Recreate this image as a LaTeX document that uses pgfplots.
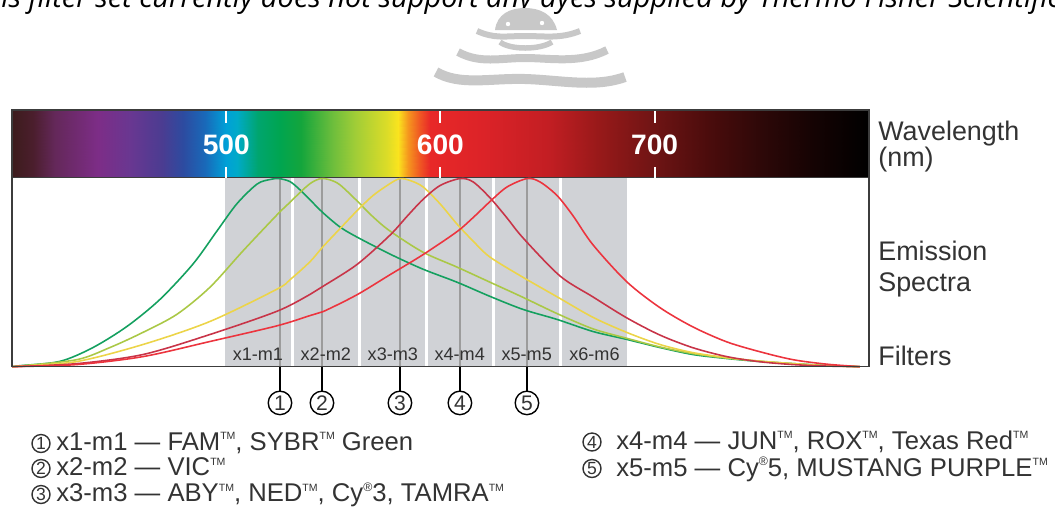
\documentclass[border=0pt]{standalone}
\usepackage{fontspec}
\setmainfont{Liberation Sans}
\newfontfamily\titlefont{Open Sans}
\usepackage{pgfplots}
\usepackage{pgfplotstable}
\pgfplotsset{compat=1.18}

\definecolor{framec}{HTML}{3C3C3C}
\definecolor{bandc}{HTML}{D0D2D6}
\definecolor{fline}{HTML}{9C9C9C}
\definecolor{cA}{RGB}{20,160,95}
\definecolor{cB}{RGB}{170,200,70}
\definecolor{cC}{RGB}{236,212,72}
\definecolor{cD}{RGB}{200,52,72}
\definecolor{cE}{RGB}{236,52,62}
\definecolor{txt}{HTML}{333333}
\definecolor{wm}{HTML}{C8C8C8}

\newcommand\tm{\raisebox{0.75ex}{\fontsize{6}{6}\selectfont TM}}
\newcommand\reg{\raisebox{0.75ex}{\fontsize{7}{7}\selectfont ®}}
\newcommand\lgfont{\fontsize{14.6}{16}\selectfont}

% emission spectra (wavelength nm, relative intensity)
\pgfplotstableread{
x y
400 0
403.7 0.005
422.4 0.028
437.8 0.101
453.7 0.213
469.1 0.356
484.5 0.543
495.7 0.718
505.0 0.862
514.4 0.966
520.4 0.990
524.6 0.995
529.8 0.979
534.4 0.936
539.1 0.883
545.2 0.814
553.1 0.739
561.0 0.686
576.4 0.596
591.8 0.516
607.7 0.447
623.1 0.372
638.5 0.303
654.4 0.250
671.2 0.186
687.0 0.144
702.5 0.101
717.9 0.064
733.7 0.043
749.1 0.027
764.5 0.016
780.4 0.006
795.8 0
}\fam
\pgfplotstableread{
x y
400 0
403.7 0.003
430.3 0.037
445.7 0.101
461.1 0.181
477.0 0.277
492.4 0.420
507.8 0.612
523.7 0.803
529.8 0.870
535.8 0.936
540.0 0.975
544.2 0.995
548.5 0.988
553.1 0.962
561.0 0.878
568.5 0.793
576.4 0.718
591.8 0.606
607.7 0.527
623.1 0.447
638.5 0.367
654.4 0.281
671.2 0.200
687.0 0.150
702.5 0.104
717.9 0.069
733.7 0.045
749.1 0.029
764.5 0.016
780.4 0.005
795.8 0
}\vic
\pgfplotstableread{
x y
400 0
403.7 0.003
430.3 0.027
461.1 0.117
492.4 0.239
523.7 0.410
529.8 0.460
539.1 0.555
545.2 0.635
553.1 0.730
561.0 0.824
568.5 0.905
576.4 0.968
581.1 0.995
585.8 0.985
591.8 0.952
599.8 0.862
607.7 0.755
615.2 0.665
623.1 0.580
638.5 0.473
654.4 0.370
671.2 0.261
687.0 0.181
702.5 0.117
717.9 0.074
733.7 0.048
749.1 0.029
764.5 0.016
780.4 0.005
795.8 0
}\aby
\pgfplotstableread{
x y
400 0
430.3 0.016
461.1 0.064
492.4 0.170
523.7 0.293
539.1 0.382
545.2 0.425
561.0 0.540
576.4 0.695
584.4 0.795
591.8 0.884
599.8 0.958
609.1 0.995
615.2 0.978
623.1 0.894
631.0 0.788
638.5 0.682
655.8 0.480
671.2 0.369
687.0 0.258
702.5 0.167
717.9 0.100
733.7 0.053
749.1 0.026
764.5 0.011
780.4 0.003
795.8 0
}\rox
\pgfplotstableread{
x y
400 0
430.3 0.011
461.1 0.053
492.4 0.133
523.7 0.216
539.1 0.270
545.2 0.291
561.0 0.380
576.4 0.486
591.8 0.592
607.7 0.714
615.2 0.788
623.1 0.873
631.0 0.950
640.4 0.995
646.4 0.978
654.4 0.906
661.8 0.800
671.2 0.645
687.0 0.449
702.5 0.312
717.9 0.210
733.7 0.131
749.1 0.079
764.5 0.037
780.4 0.013
795.8 0
}\cyfive

\begin{document}
\begin{tikzpicture}
\begin{scope}[x=0.02cm,y=-0.02cm]
\useasboundingbox (0,0) rectangle (1055,529);
% clipped heading
\node[anchor=base west, inner sep=0pt, font=\titlefont\itshape\fontsize{16.5}{18}\selectfont] at (1,7)
  {is filter set currently does not support any dyes supplied by Thermo Fisher Scientific.};
\node[anchor=base east, inner sep=0pt, font=\titlefont\itshape\fontsize{16.5}{18}\selectfont] at (1,7) {Th};
% watermark
\fill[wm] (495,30) .. controls (497,14) and (510,8) .. (525,8) .. controls (540,8) and (553,14) .. (557,30) -- cycle;
\fill[white] (508,24) circle (2.2); \fill[white] (542,23) circle (2.2);
\draw[wm, line width=0.12cm] (477,31) .. controls (495,39) and (505,36) .. (525,36) .. controls (545,36) and (560,39) .. (580,31);
\draw[wm, line width=0.11cm] (500,42) .. controls (510,50) and (540,50) .. (552,42);
\draw[wm, line width=0.16cm] (458,52) .. controls (480,64) and (500,58) .. (525,58) .. controls (550,58) and (580,64) .. (607,50);
\draw[wm, line width=0.2cm] (436,72) .. controls (460,86) and (490,78) .. (525,79) .. controls (560,80) and (595,88) .. (625,77);
% side labels
\begin{scope}[every node/.style={anchor=base west, inner sep=0pt, text=txt, font=\fontsize{15.3}{17}\selectfont}]
\node at (878,140) {Wavelength};
\node at (878,166.5) {(nm)};
\node at (878,260) {Emission};
\node at (878,291) {Spectra};
\node at (878,365) {Filters};
\end{scope}
% key
\tikzset{lc/.style={circle, draw=txt, line width=0.8pt, inner sep=0pt, minimum size=0.36cm, text=txt, font=\fontsize{10}{10}\selectfont},
         lt/.style={anchor=base west, inner sep=0pt, text=txt, font=\lgfont}}
\node[lc] at (41,443.5) {1}; \node[lt] at (56,450) {x1-m1 — FAM\tm, SYBR\tm\ Green};
\node[lc] at (41,468.5) {2}; \node[lt] at (56,475.5) {x2-m2 — VIC\tm};
\node[lc] at (41,494.5) {3}; \node[lt] at (56,501.5) {x3-m3 — ABY\tm, NED\tm, Cy\reg3, TAMRA\tm};
\node[lc] at (592,442) {4}; \node[lt] at (616,449) {x4-m4 — JUN\tm, ROX\tm, Texas Red\tm};
\node[lc] at (592,468.5) {5}; \node[lt] at (616,476) {x5-m5 — Cy\reg5, MUSTANG PURPLE\tm};
\end{scope}

\begin{axis}[
  at={(0.24cm,-2.2cm)}, anchor=north west,
  scale only axis, width=17.14cm, height=5.134cm,
  xmin=400, xmax=800, ymin=0, ymax=1.358,
  xtick=\empty, ytick=\empty,
  axis on top,
  axis line style={draw=framec, line width=0.85pt},
  clip=false,
  colormap={spec}{rgb255(0pt)=(60,28,28); rgb255(10pt)=(75,30,45); rgb255(20pt)=(100,40,90);
    rgb255(40pt)=(125,45,135); rgb255(55pt)=(105,55,145); rgb255(70pt)=(75,60,145);
    rgb255(80pt)=(45,75,160); rgb255(90pt)=(25,105,185); rgb255(100pt)=(0,160,215);
    rgb255(105pt)=(0,170,200); rgb255(115pt)=(0,165,110); rgb255(125pt)=(0,165,80);
    rgb255(135pt)=(20,165,60); rgb255(150pt)=(110,190,60); rgb255(160pt)=(160,205,55);
    rgb255(175pt)=(220,220,40); rgb255(180pt)=(250,228,30); rgb255(185pt)=(245,150,30);
    rgb255(190pt)=(240,90,35); rgb255(195pt)=(232,40,40); rgb255(220pt)=(220,35,40);
    rgb255(250pt)=(195,30,35); rgb255(275pt)=(150,25,25); rgb255(300pt)=(110,20,20);
    rgb255(325pt)=(75,12,12); rgb255(350pt)=(45,8,8); rgb255(375pt)=(20,3,3); rgb255(400pt)=(0,0,0)},
]
% wavelength bar
\addplot[surf, shader=interp, point meta=x, mesh/rows=2] coordinates {
(400,1) (410,1) (420,1) (440,1) (455,1) (470,1) (480,1) (490,1) (500,1) (505,1) (515,1) (525,1) (535,1) (550,1)
(560,1) (575,1) (580,1) (585,1) (590,1) (595,1) (620,1) (650,1) (675,1) (700,1) (725,1) (750,1) (775,1) (800,1)
(400,1.358) (410,1.358) (420,1.358) (440,1.358) (455,1.358) (470,1.358) (480,1.358) (490,1.358) (500,1.358) (505,1.358) (515,1.358) (525,1.358) (535,1.358) (550,1.358)
(560,1.358) (575,1.358) (580,1.358) (585,1.358) (590,1.358) (595,1.358) (620,1.358) (650,1.358) (675,1.358) (700,1.358) (725,1.358) (750,1.358) (775,1.358) (800,1.358)
};
\addplot[framec, line width=0.85pt] coordinates {(400,1) (800,1)};
\foreach \w in {500,600,700} {
  \edef\tmp{\noexpand\addplot[white, line width=1.1pt] coordinates {(\w,1.358) (\w,1.289)};
    \noexpand\addplot[white, line width=1.1pt] coordinates {(\w,1.057) (\w,1)};
    \noexpand\node[text=white, font=\noexpand\bfseries\noexpand\fontsize{16}{16}\noexpand\selectfont] at (axis cs:\w,1.173) {\w};}
  \tmp
}
% filter bands
\addplot[draw=none, fill=bandc] coordinates {(499.4,1) (530.1,1)} \closedcycle;
\addplot[draw=none, fill=bandc] coordinates {(531.5,1) (561.4,1)} \closedcycle;
\addplot[draw=none, fill=bandc] coordinates {(562.8,1) (592.8,1)} \closedcycle;
\addplot[draw=none, fill=bandc] coordinates {(594.2,1) (623.9,1)} \closedcycle;
\addplot[draw=none, fill=bandc] coordinates {(625.3,1) (655.3,1)} \closedcycle;
\addplot[draw=none, fill=bandc] coordinates {(656.7,1) (687.0,1)} \closedcycle;
% filter centre lines and callouts
\foreach \w/\k in {525.1/1,544.7/2,581.1/3,609.1/4,640.4/5} {
  \edef\tmp{\noexpand\addplot[fline, line width=0.7pt] coordinates {(\w,0) (\w,1)};
    \noexpand\addplot[black, line width=0.7pt] coordinates {(\w,0) (\w,-0.128)};
    \noexpand\node[circle, draw=black, line width=0.8pt, inner sep=0pt, minimum size=0.47cm, text=txt,
      font=\noexpand\fontsize{12}{12}\noexpand\selectfont] at (axis cs:\w,-0.192) {\k};}
  \tmp
}
\foreach \w/\k in {514.8/1,546.5/2,577.8/3,609.0/4,640.3/5,671.9/6} {
  \edef\tmp{\noexpand\node[text=txt, font=\noexpand\fontsize{10.3}{10.3}\noexpand\selectfont] at (axis cs:\w,0.067) {x\k-m\k};}
  \tmp
}
% spectra
\addplot[cA, line width=0.9pt, smooth] table {\fam};
\addplot[cB, line width=0.9pt, smooth] table {\vic};
\addplot[cC, line width=0.9pt, smooth] table {\aby};
\addplot[cD, line width=0.9pt, smooth] table {\rox};
\addplot[cE, line width=0.9pt, smooth] table {\cyfive};
\end{axis}
\end{tikzpicture}
\end{document}
